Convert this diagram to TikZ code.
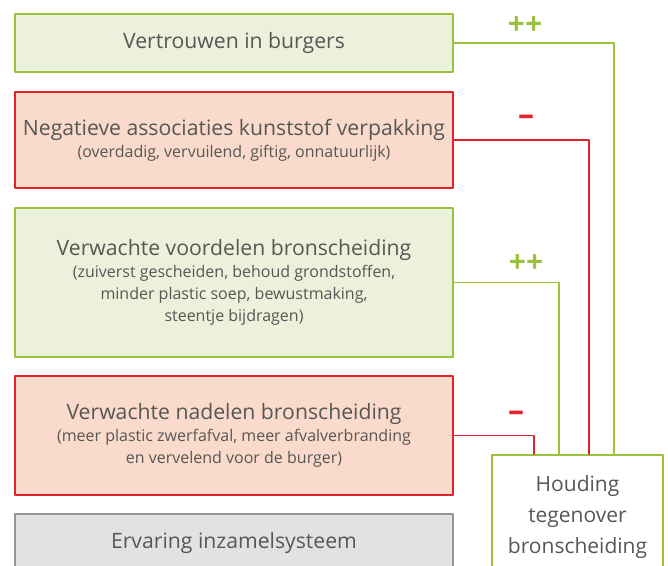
\documentclass[tikz,border=0pt]{standalone}
\usepackage{fontspec}
\setmainfont{Open Sans}
\usetikzlibrary{positioning}
\definecolor{groen}{RGB}{155,194,60}
\definecolor{lichtgroen}{RGB}{236,241,219}
\definecolor{rood}{RGB}{228,34,43}
\definecolor{lichtrood}{RGB}{249,218,203}
\definecolor{grijs}{RGB}{150,150,150}
\definecolor{lichtgrijs}{RGB}{227,226,225}
\definecolor{tekstgrijs}{RGB}{87,87,86}
\newcommand{\toelichting}[1]{{\fontsize{8}{10.75}\selectfont #1}}
\tikzset{
	factor/.style={draw,line width=1pt,minimum width=219pt,inner sep=0pt,text=tekstgrijs,align=center,font=\fontsize{10.6}{11}\selectfont},
	positief/.style={factor,draw=groen,fill=lichtgroen},
	negatief/.style={factor,draw=rood,fill=lichtrood},
	neutraal/.style={factor,draw=grijs,fill=lichtgrijs},
	verbinding/.style={line width=0.8pt},
	teken/.style={font=\bfseries\fontsize{15}{17}\selectfont}
}

\begin{document}
\begin{tikzpicture}[line cap=round,line join=round,x=0.5pt,y=-0.5pt]
	\useasboundingbox (0,0) rectangle (668,566);
	\clip (0,0) rectangle (668,566);
	\node[positief,minimum height=29pt] (vertrouwen) at (234,43) {Vertrouwen in burgers};
	\node[negatief,minimum height=48pt] (associaties) at (234,140) {Negatieve associaties kunststof verpakking\\\toelichting{(overdadig, vervuilend, giftig, onnatuurlijk)}};
	\node[positief,minimum height=74.5pt] (voordelen) at (234,282.5) {Verwachte voordelen bronscheiding\\\toelichting{(zuiverst gescheiden, behoud grondstoffen,}\\\toelichting{minder plastic soep, bewustmaking,}\\\toelichting{steentje bijdragen)}};
	\node[negatief,minimum height=59.5pt] (nadelen) at (234,435.5) {Verwachte nadelen bronscheiding\\\toelichting{(meer plastic zwerfafval, meer afvalverbranding}\\\toelichting{en vervelend voor de burger)}};
	\node[neutraal,minimum height=29pt] (ervaring) at (234,543) {Ervaring inzamelsysteem};
	\node[draw=groen,line width=1pt,fill=white,minimum width=85.5pt,minimum height=62.5pt,text=tekstgrijs,align=center,font=\fontsize{10.5}{15.5}\selectfont] (houding) at (577.5,517.5) {Houding\\tegenover\\bronscheiding};
	\coordinate (in1) at ([xshift=18.25pt]houding.north);
	\coordinate (in2) at ([xshift=5.75pt]houding.north);
	\coordinate (in3) at ([xshift=-9.25pt]houding.north);
	\coordinate (in4) at ([xshift=-21.75pt]houding.north);
	\draw[verbinding,groen] (vertrouwen.east) -| (in1);
	\draw[verbinding,rood] (associaties.east) -| (in2);
	\draw[verbinding,groen] (voordelen.east) -| (in3);
	\draw[verbinding,rood] (nadelen.east) -| (in4);
	\node[teken,text=groen] (plus1) at (525,26) {++};
	\node[teken,text=rood,font=\bfseries\fontsize{16}{17}\selectfont] (min1) at (526,120) {--};
	\node[teken,text=groen] (plus2) at (526,264) {++};
	\node[teken,text=rood,font=\bfseries\fontsize{16}{17}\selectfont] (min2) at (516,416) {--};
\end{tikzpicture}
\end{document}
